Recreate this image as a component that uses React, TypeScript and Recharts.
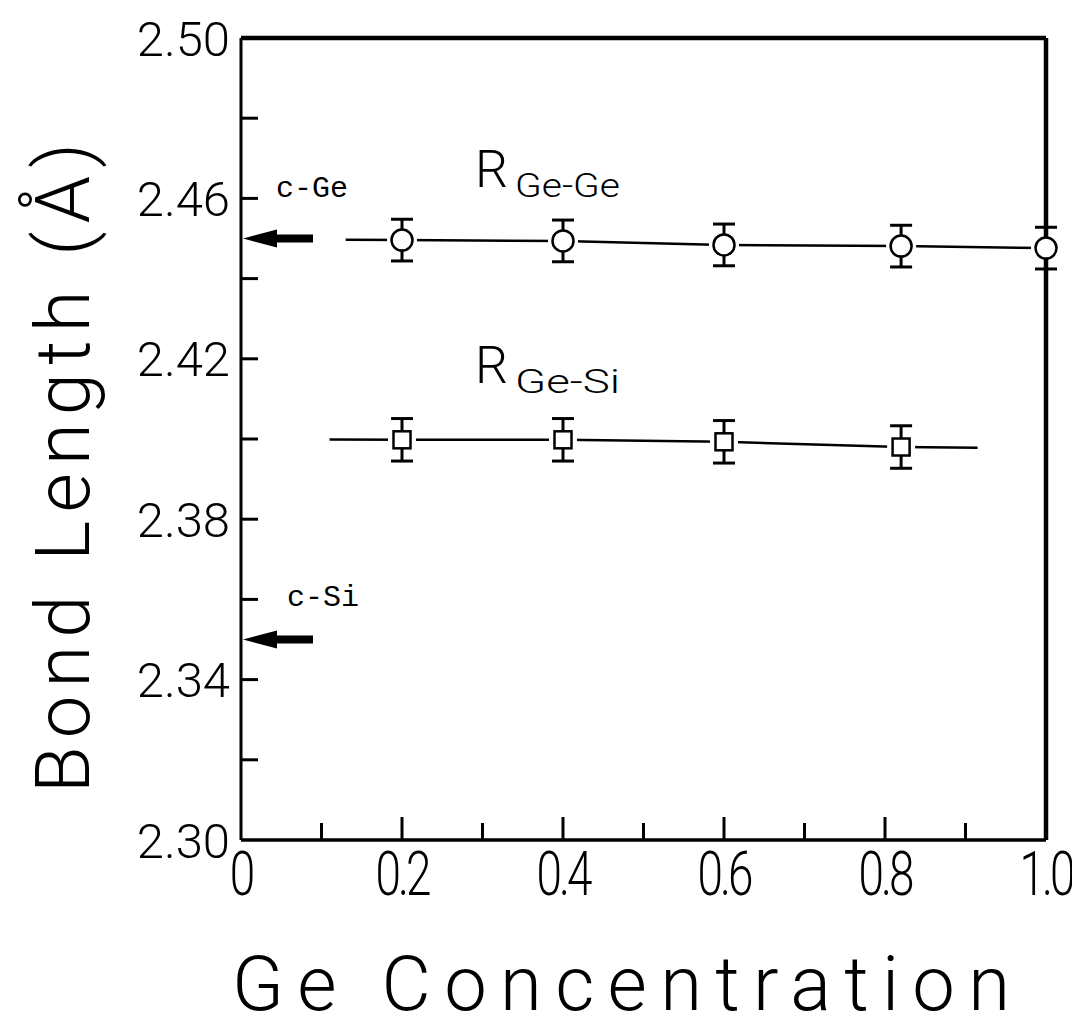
import React from "react";
import {
  ComposedChart,
  ErrorBar,
  Line,
  ReferenceDot,
  ReferenceLine,
  Scatter,
  XAxis,
  YAxis,
} from "recharts";

const W = 1072;
const H = 1022;
const PLOT = { left: 233, top: 30, right: 1038, bottom: 832 };
const INK = "#000";
const FONT = "Roboto, 'Noto Sans', sans-serif";
const MONO = "'Liberation Mono', 'DejaVu Sans Mono', monospace";

// Ge-Ge bond length vs Ge concentration
const geGeConc = [0.2, 0.4, 0.6, 0.82, 1.0];
const geGeBond = [2.4496, 2.4494, 2.4484, 2.4481, 2.4476];
const geGeErr = [0.0052, 0.0052, 0.0052, 0.0052, 0.0052];

// Ge-Si bond length vs Ge concentration
const geSiConc = [0.2, 0.4, 0.6, 0.82];
const geSiBond = [2.3998, 2.3998, 2.3993, 2.398];
const geSiErr = [0.0053, 0.0053, 0.0053, 0.0053];

// guide lines: where each one starts and stops
const geGeGuideX = [0.13, 1.0];
const geGeGuideY = [2.4497, 2.4476];
const geSiGuideX = [0.11, 0.915];
const geSiGuideY = [2.3999, 2.3978];

// crystalline reference values marked by arrows on the left axis
const crystals = ["c-Ge", "c-Si"];
const crystalBond = [2.45, 2.35];

const yTicks = [2.3, 2.32, 2.34, 2.36, 2.38, 2.4, 2.42, 2.44, 2.46, 2.48, 2.5];
const yTickText = ["2.30", "", "2.34", "", "2.38", "", "2.42", "", "2.46", "", "2.50"];
const xTicks = [0, 0.1, 0.2, 0.3, 0.4, 0.5, 0.6, 0.7, 0.8, 0.9, 1.0];
const xTickText = ["0", "", "0.2", "", "0.4", "", "0.6", "", "0.8", "", "1.0"];

const points = (xs: number[], ys: number[], errs: number[]) =>
  xs.map((x, i) => ({ x, y: ys[i], err: errs[i] }));

const guide = (gx: number[], gy: number[], xs: number[], ys: number[]) => [
  { x: gx[0], y: gy[0] },
  ...xs.map((x, i) => ({ x, y: ys[i] })),
  { x: gx[1], y: gy[1] },
];

const geGePoints = points(geGeConc, geGeBond, geGeErr);
const geSiPoints = points(geSiConc, geSiBond, geSiErr);
const geGeLine = guide(geGeGuideX, geGeGuideY, geGeConc, geGeBond);
const geSiLine = guide(geSiGuideX, geSiGuideY, geSiConc, geSiBond);

// axes are given 1px so recharts still renders their ticks
const AXIS_PX = 1;

const YTick = (props: any) => {
  const { y, index } = props;
  const edge = index === 0 || index === yTicks.length - 1;
  return (
    <g>
      {!edge && (
        <line x1={PLOT.left} x2={PLOT.left + 17} y1={y} y2={y} stroke={INK} strokeWidth={3} />
      )}
      {yTickText[index] && (
        <text
          x={PLOT.left - 11}
          y={y}
          dy="0.36em"
          textAnchor="end"
          fontFamily={FONT}
          fontWeight={300}
          fontSize={49}
          fill={INK}
        >
          {yTickText[index]}
        </text>
      )}
    </g>
  );
};

// narrow, tall numerals along the bottom
const XTick = (props: any) => {
  const { x, index } = props;
  const edge = index === 0 || index === xTicks.length - 1;
  const len = index % 2 === 0 ? 23 : 17;
  return (
    <g>
      {!edge && (
        <line x1={x} x2={x} y1={PLOT.bottom} y2={PLOT.bottom - len} stroke={INK} strokeWidth={3} />
      )}
      {xTickText[index] && (
        <text
          transform={`translate(${x}, ${PLOT.bottom + 55}) scale(0.74, 1)`}
          textAnchor="middle"
          fontFamily={FONT}
          fontWeight={300}
          fontSize={62}
          letterSpacing={-4}
          fill={INK}
        >
          {xTickText[index]}
        </text>
      )}
    </g>
  );
};

const CircleMark = (props: any) => {
  const { cx, cy } = props;
  return (
    <g>
      <rect x={cx - 15} y={cy - 3} width={30} height={6} fill="#fff" />
      <circle cx={cx} cy={cy} r={10.5} fill="#fff" stroke={INK} strokeWidth={2.5} />
    </g>
  );
};

const SquareMark = (props: any) => {
  const { cx, cy } = props;
  return (
    <g>
      <rect x={cx - 14} y={cy - 3} width={28} height={6} fill="#fff" />
      <rect x={cx - 8.5} y={cy - 8.5} width={17} height={17} fill="#fff" stroke={INK} strokeWidth={2.5} />
    </g>
  );
};

const Arrow = (props: any) => {
  const { cx, cy } = props;
  const tip = cx + 2;
  return (
    <g fill={INK}>
      <polygon points={`${tip},${cy} ${tip + 34},${cy - 9} ${tip + 34},${cy + 9}`} />
      <rect x={tip + 30} y={cy - 4} width={40} height={8} />
    </g>
  );
};

const BondLabel = ({ x, y, sub }: { x: number; y: number; sub: string }) => (
  <g fontFamily={FONT} fontWeight={300} fill={INK}>
    <text x={x} y={y} fontSize={52}>R</text>
    <text x={x + 40} y={y + 10} fontSize={34} textLength={sub.length * 21} lengthAdjust="spacingAndGlyphs">
      {sub}
    </text>
  </g>
);

export default function App() {
  return (
    <div style={{ position: "relative", width: W, height: H }}>
      <ComposedChart
        width={W}
        height={H}
        margin={{
          top: PLOT.top,
          right: W - PLOT.right,
          bottom: H - PLOT.bottom - AXIS_PX,
          left: PLOT.left - AXIS_PX,
        }}
      >
        <XAxis
          type="number"
          dataKey="x"
          domain={[0, 1]}
          ticks={xTicks}
          interval={0}
          height={AXIS_PX}
          axisLine={false}
          tickLine={false}
          tick={(p: any) => <XTick {...p} />}
        />
        <YAxis
          type="number"
          dataKey="y"
          domain={[2.3, 2.5]}
          ticks={yTicks}
          interval={0}
          width={AXIS_PX}
          axisLine={false}
          tickLine={false}
          tick={(p: any) => <YTick {...p} />}
        />
        <ReferenceLine x={0} stroke={INK} strokeWidth={3} />
        <ReferenceLine y={2.3} stroke={INK} strokeWidth={3.5} />
        <ReferenceLine y={2.5} stroke={INK} strokeWidth={4.5} />
        <ReferenceLine x={1} stroke={INK} strokeWidth={4.5} />

        {crystalBond.map((b, i) => (
          <ReferenceDot
            key={crystals[i]}
            x={0}
            y={b}
            ifOverflow="visible"
            shape={(p: any) => <Arrow {...p} />}
          />
        ))}

        <Line
          data={geGeLine}
          dataKey="y"
          type="linear"
          stroke={INK}
          strokeWidth={2.5}
          dot={false}
          isAnimationActive={false}
        />
        <Line
          data={geSiLine}
          dataKey="y"
          type="linear"
          stroke={INK}
          strokeWidth={2.5}
          dot={false}
          isAnimationActive={false}
        />
        <Scatter data={geGePoints} dataKey="y" shape={(p: any) => <CircleMark {...p} />} isAnimationActive={false}>
          <ErrorBar dataKey="err" direction="y" width={11} stroke={INK} strokeWidth={3} isAnimationActive={false} />
        </Scatter>
        <Scatter data={geSiPoints} dataKey="y" shape={(p: any) => <SquareMark {...p} />} isAnimationActive={false}>
          <ErrorBar dataKey="err" direction="y" width={11} stroke={INK} strokeWidth={3} isAnimationActive={false} />
        </Scatter>
      </ComposedChart>

      <svg
        width={W}
        height={H}
        style={{ position: "absolute", left: 0, top: 0, pointerEvents: "none" }}
      >
        <text
          transform={`translate(81, 460) rotate(-90)`}
          textAnchor="middle"
          fontFamily={FONT}
          fontWeight={300}
          fontSize={76}
          textLength={650}
          lengthAdjust="spacing"
          fill={INK}
        >
          Bond Length (Å)
        </text>
        <text
          x={613}
          y={1002}
          textAnchor="middle"
          fontFamily={FONT}
          fontWeight={300}
          fontSize={76}
          textLength={778}
          lengthAdjust="spacing"
          fill={INK}
        >
          Ge Concentration
        </text>

        <BondLabel x={467} y={179} sub="Ge-Ge" />
        <BondLabel x={467} y={375} sub="Ge-Si" />

        <text x={268} y={189} fontFamily={MONO} fontSize={30} fill={INK}>
          {crystals[0]}
        </text>
        <text x={279} y={598} fontFamily={MONO} fontSize={30} fill={INK}>
          {crystals[1]}
        </text>
      </svg>
    </div>
  );
}
